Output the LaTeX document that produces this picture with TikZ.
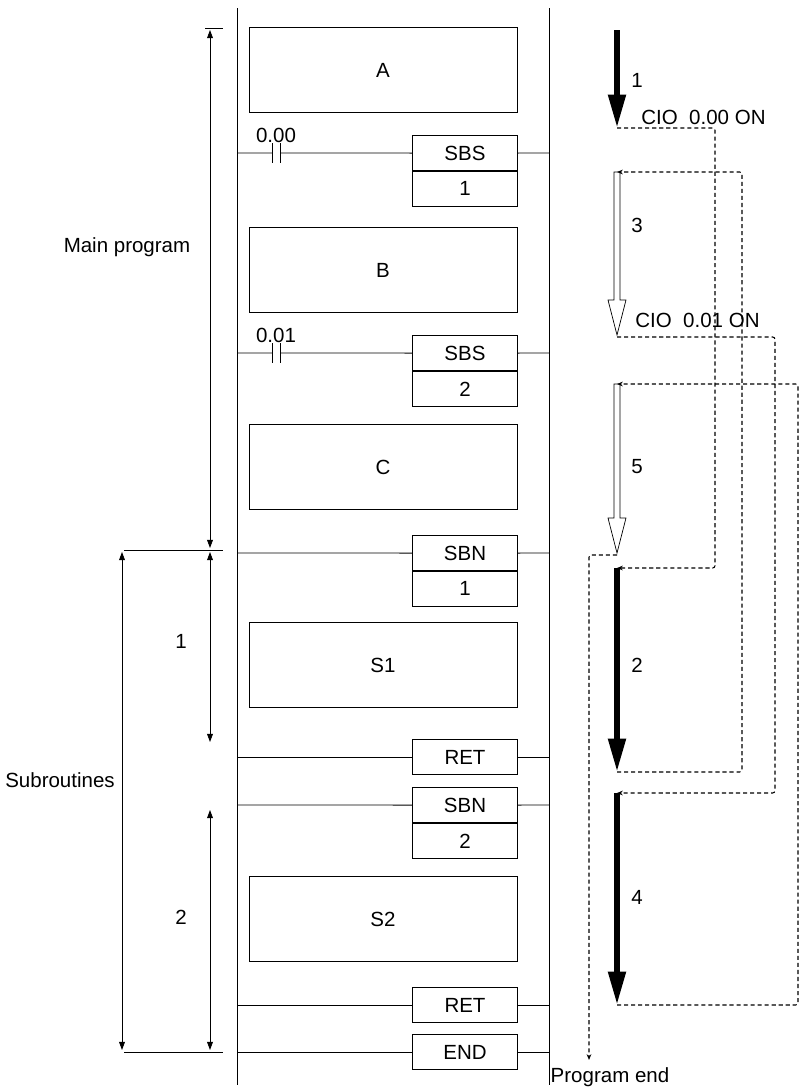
\documentclass[tikz,border=0pt]{standalone}
\usepackage{fontspec}
\setmainfont{Liberation Sans}
\usetikzlibrary{arrows.meta, positioning}

\tikzset{
  blk/.style={draw, line width=0.7pt, minimum width=8.04cm, minimum height=2.55cm},
  instr/.style={draw, line width=0.7pt, minimum width=3.15cm, minimum height=1.05cm, inner sep=0pt},
  wire/.style={line width=0.7pt},
  dim/.style={line width=0.7pt, {Triangle[length=7pt,width=5pt]}-{Triangle[length=7pt,width=5pt]}},
  run/.style={line width=5pt, -{Triangle[length=1cm,width=0.5cm]}},
  jump/.style={line width=0.9pt, dash pattern=on 3.5pt off 2.5pt, -{Stealth[length=5pt,width=4pt]}},
  lbl/.style={inner sep=1pt}
}

\newcommand{\hollowarrow}[3]{% x, top y, bottom y
  \draw[line width=0.6pt, fill=white] (#1-3,#2) -- (#1+3,#2) -- (#1+3,#3-35) -- (#1+9,#3-35)
    -- (#1,#3) -- (#1-9,#3-35) -- (#1-3,#3-35) -- cycle;}

\begin{document}
\begin{tikzpicture}[x=0.03cm, y=-0.03cm, font=\fontsize{17.5}{20}\selectfont]
\useasboundingbox (0,0) rectangle (806,1092);

% rails
\draw[wire] (237,8) -- (237,1085);
\draw[wire] (549,8) -- (549,1085);

% program blocks
\node[blk] (A) at (383,70) {A};
\node[blk] (B) at (383,270) {B};
\node[blk] (C) at (383,467) {C};
\node[blk] (S1) at (383,665) {S1};
\node[blk] (S2) at (383,919) {S2};

% instructions
\foreach \nm/\y/\top/\bot in {sbs1/153/SBS/1, sbs2/353/SBS/2, sbn1/553/SBN/1, sbn2/805/SBN/2}{
  \node[instr, anchor=south] (\nm) at (465,171+\y-153) {\top};
  \node[instr, anchor=north] (\nm b) at (465,171+\y-153) {\bot};
  \draw[wire] (237,\y) -- (\nm.west);
  \draw[wire] (\nm.east) -- (549,\y);
}
\foreach \nm/\y/\txt in {ret1/757/RET, ret2/1005/RET, endi/1052/END}{
  \node[instr, anchor=center] (\nm) at (465,\y) {\txt};
  \draw[wire] (237,\y) -- (\nm.west);
  \draw[wire] (\nm.east) -- (549,\y);
}

% contacts
\foreach \y/\addr in {153/0.00, 353/0.01}{
  \fill[white] (272,\y-6) rectangle (280,\y+6);
  \draw[wire] (272,\y-10) -- (272,\y+10);
  \draw[wire] (280,\y-10) -- (280,\y+10);
  \node[lbl, above] at (276,\y-9) {\addr};
}

% extents
\draw[wire] (205,28) -- (223,28);
\draw[wire] (124,550) -- (223,550);
\draw[wire] (124,1052) -- (223,1052);
\draw[dim] (210,30) -- (210,548);
\draw[dim] (122,552) -- (122,1050);
\draw[dim] (210,552) -- (210,742);
\draw[dim] (210,810) -- (210,1050);
\node[lbl] (mainlbl) at (127,247) {Main program};
\node[lbl] (sublbl) at (60,780) {Subroutines};
\node[lbl] (s1lbl) at (181,641) {1};
\node[lbl] (s2lbl) at (181,917) {2};

% execution order
\coordinate (e1) at (617,128);
\coordinate (t3) at (617,172);
\coordinate (e3) at (617,337);
\coordinate (t5) at (617,384);
\coordinate (e5) at (617,555);
\coordinate (t2) at (617,568);
\coordinate (e2) at (617,772);
\coordinate (t4) at (617,793);
\coordinate (e4) at (617,1005);
\coordinate (fin) at (589,1060);

\draw[run] (617,30) -- (e1);
\hollowarrow{617}{172}{335}
\hollowarrow{617}{384}{553}
\draw[run] (t2) -- (e2);
\draw[run] (t4) -- (e4);

\node[lbl, right] at (630,80) {1};
\node[lbl, right] at (630,225) {3};
\node[lbl, right] at (630,467) {5};
\node[lbl, right] at (630,665) {2};
\node[lbl, right] at (630,897) {4};
\node[lbl, anchor=west] (on0) at (640,117) {CIO\ \ 0.00 ON};
\node[lbl, anchor=west] (on1) at (634,320) {CIO\ \ 0.01 ON};
\node[lbl, anchor=north] (endlbl) at (610,1066) {Program end};

\draw[jump, rounded corners=2pt] (e1) -| (715,300) |- (t2);
\draw[jump, rounded corners=2pt] (e2) -| (742,300) |- (t3);
\draw[jump, rounded corners=2pt] (e3) -| (775,600) |- (t4);
\draw[jump, rounded corners=2pt] (e4) -| (798,600) |- (t5);
\draw[jump, rounded corners=2pt] (e5) -| (fin);
\end{tikzpicture}
\end{document}
